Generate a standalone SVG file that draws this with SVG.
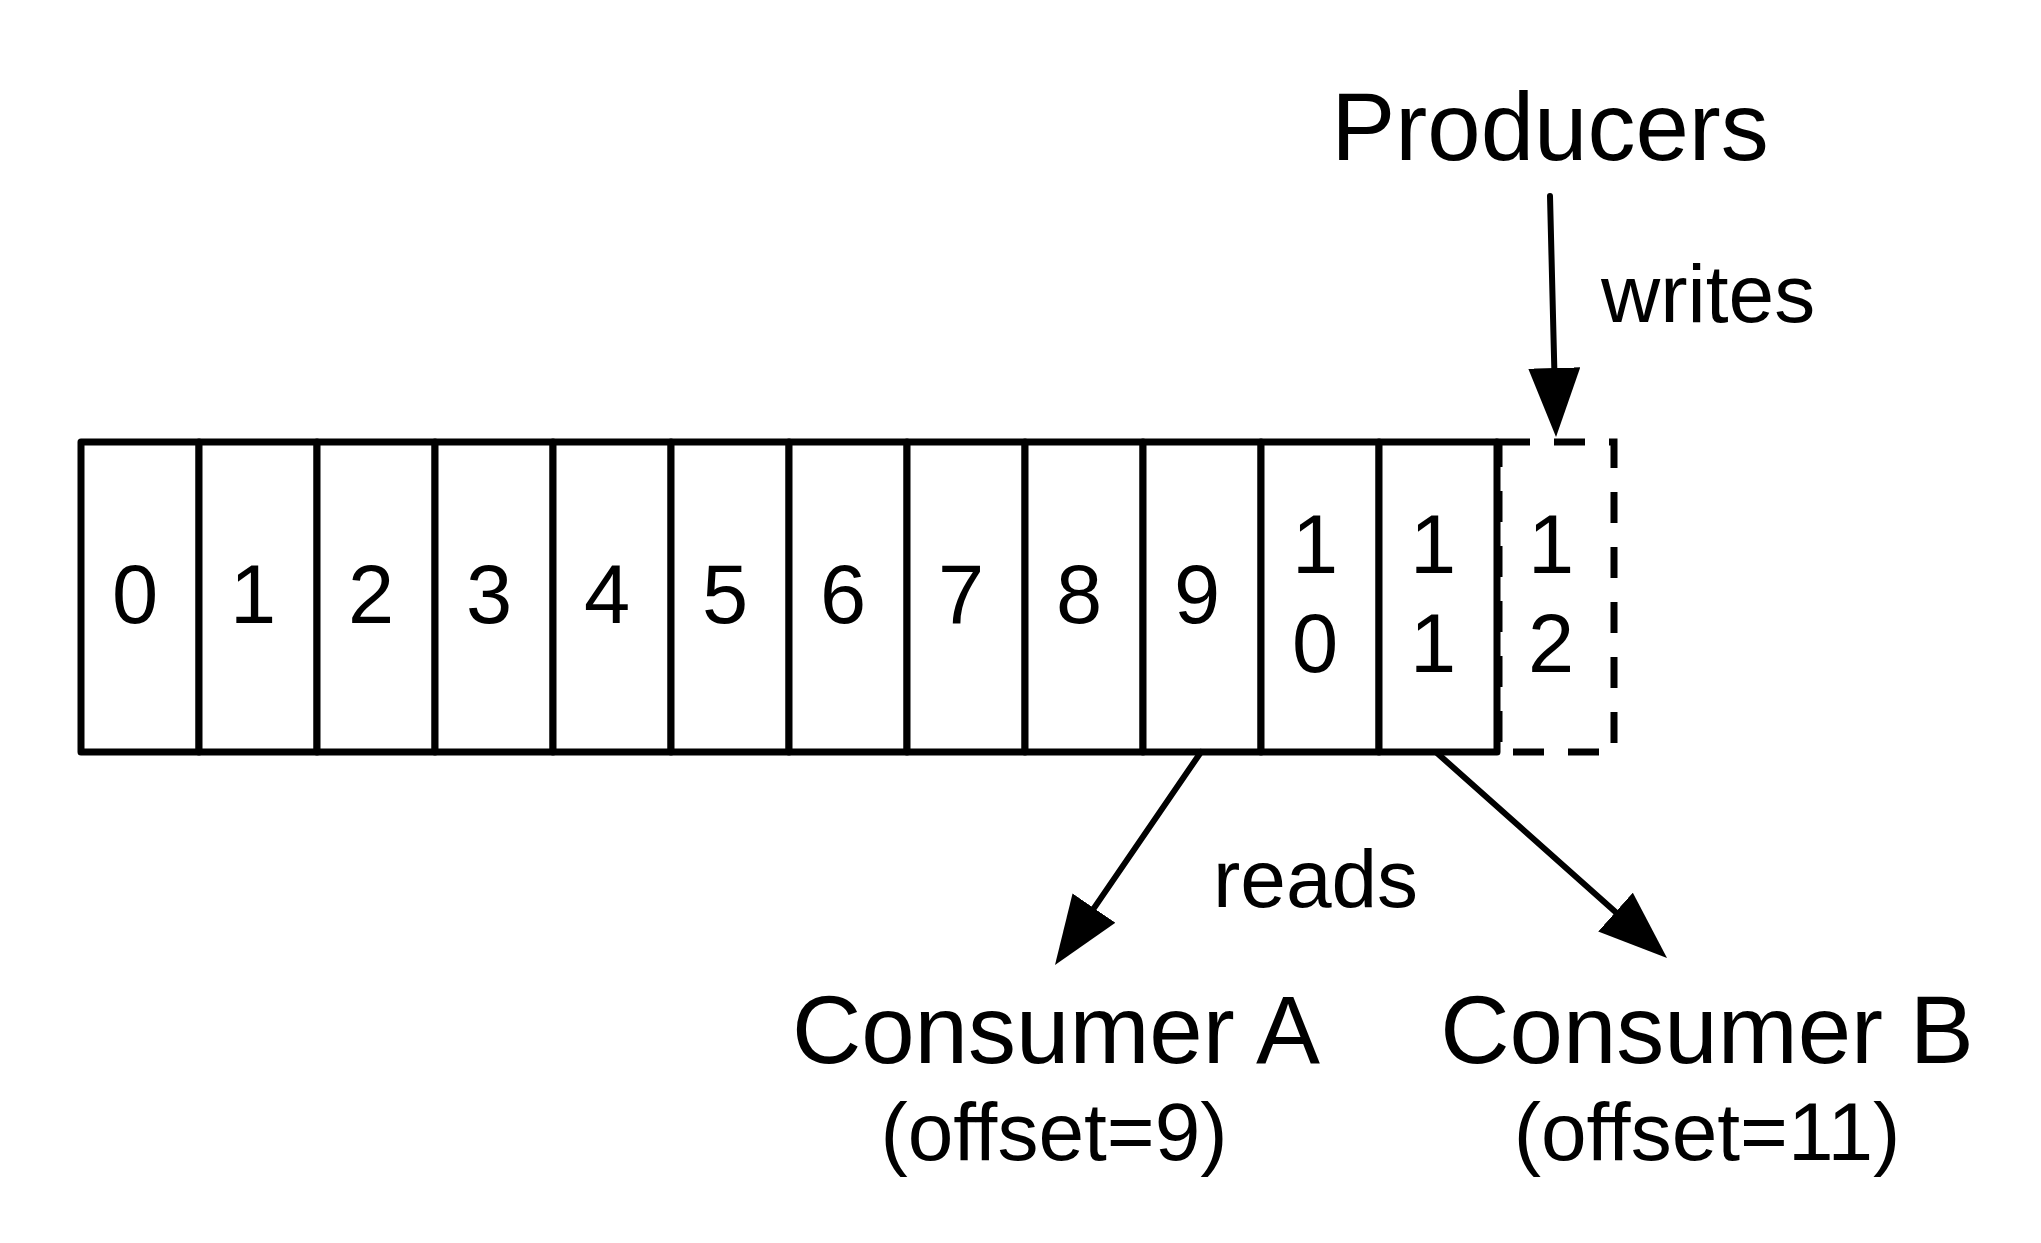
<svg xmlns="http://www.w3.org/2000/svg" width="2041" height="1243" viewBox="0 0 2041 1243">
<style>
text{font-family:"Liberation Sans",Arial,Helvetica,sans-serif;fill:#000}
.cell{fill:#fff;stroke:#000;stroke-width:7;stroke-linejoin:round}
.num{font-size:83px;text-anchor:middle}
.big{font-size:96px;text-anchor:middle}
.mid{font-size:82px}
.sub{font-size:82px;text-anchor:middle}
.conn{stroke:#000;stroke-width:6;fill:none;stroke-linecap:round}
.dash{fill:none;stroke:#000;stroke-width:7;stroke-dasharray:31 24}
</style>
<defs>
<marker id="ah" markerUnits="userSpaceOnUse" markerWidth="70" markerHeight="52" viewBox="0 0 70 52" refX="0" refY="26" orient="auto">
<path d="M0,0 L69,26 L0,52 Z" fill="#000"/>
</marker>
</defs>
<rect width="2041" height="1243" fill="#fff"/>
<g id="log">
<g id="cell12"><rect class="dash" x="1499" y="442" width="115" height="310"/><text class="num" x="1551" y="573">1</text><text class="num" x="1551" y="672">2</text></g>
<g id="cell0"><rect class="cell" x="81" y="442" width="118" height="310"/><text class="num" x="135" y="623">0</text></g>
<g id="cell1"><rect class="cell" x="199" y="442" width="118" height="310"/><text class="num" x="253" y="623">1</text></g>
<g id="cell2"><rect class="cell" x="317" y="442" width="118" height="310"/><text class="num" x="371" y="623">2</text></g>
<g id="cell3"><rect class="cell" x="435" y="442" width="118" height="310"/><text class="num" x="489" y="623">3</text></g>
<g id="cell4"><rect class="cell" x="553" y="442" width="118" height="310"/><text class="num" x="607" y="623">4</text></g>
<g id="cell5"><rect class="cell" x="671" y="442" width="118" height="310"/><text class="num" x="725" y="623">5</text></g>
<g id="cell6"><rect class="cell" x="789" y="442" width="118" height="310"/><text class="num" x="843" y="623">6</text></g>
<g id="cell7"><rect class="cell" x="907" y="442" width="118" height="310"/><text class="num" x="961" y="623">7</text></g>
<g id="cell8"><rect class="cell" x="1025" y="442" width="118" height="310"/><text class="num" x="1079" y="623">8</text></g>
<g id="cell9"><rect class="cell" x="1143" y="442" width="118" height="310"/><text class="num" x="1197" y="623">9</text></g>
<g id="cell10"><rect class="cell" x="1261" y="442" width="118" height="310"/><text class="num" x="1315" y="573">1</text><text class="num" x="1315" y="672">0</text></g>
<g id="cell11"><rect class="cell" x="1379" y="442" width="118" height="310"/><text class="num" x="1433" y="573">1</text><text class="num" x="1433" y="672">1</text></g>
</g>
<g id="producers"><text class="big" x="1550" y="160">Producers</text></g>
<g id="consumerA"><text class="big" x="1056" y="1063">Consumer A</text><text class="sub" x="1054" y="1160">(offset=9)</text></g>
<g id="consumerB"><text class="big" x="1707" y="1063">Consumer B</text><text class="sub" x="1707" y="1160">(offset=11)</text></g>
<g id="connectors">
<line class="conn" x1="1550" y1="196" x2="1554.3" y2="368" marker-end="url(#ah)"/>
<line class="conn" x1="1201" y1="752" x2="1094" y2="908.1" marker-end="url(#ah)"/>
<line class="conn" x1="1437" y1="753" x2="1615.5" y2="912.1" marker-end="url(#ah)"/>
<text class="mid" x="1601" y="322">writes</text>
<text class="mid" x="1213" y="907">reads</text>
</g>
</svg>
